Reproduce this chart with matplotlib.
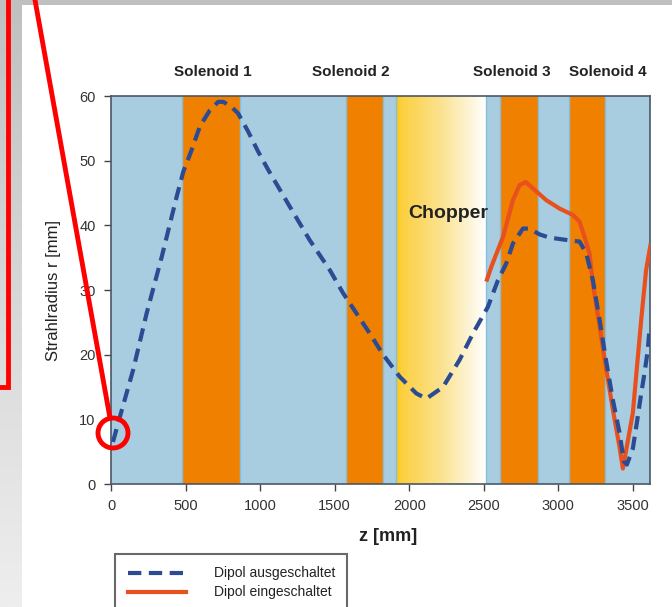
import numpy as np
import matplotlib
matplotlib.use("Agg")
import matplotlib.pyplot as plt
from matplotlib.colors import LinearSegmentedColormap
from matplotlib.lines import Line2D
from matplotlib.patches import Rectangle, Ellipse

plt.rcParams['font.family'] = ['Liberation Sans', 'DejaVu Sans']

# ---------------- data ----------------
z_off = [13, 72, 148, 239, 340, 440, 485, 540, 596, 663, 719, 753, 809, 853,
         920, 987, 1054, 1199, 1333, 1467, 1557, 1646, 1735, 1825, 1936, 2048,
         2115, 2227, 2338, 2428, 2528, 2595, 2651, 2696, 2763, 2807, 2874, 2941,
         3098, 3142, 3187, 3232, 3276, 3321, 3366, 3410, 3440, 3460, 3500, 3533,
         3556, 3578, 3600, 3611]
r_off = [6.5, 11.4, 17.6, 26.4, 35.1, 44.4, 48.3, 51.6, 55.3, 57.8, 59.1, 59.1,
         58.3, 57.3, 54.5, 51.4, 48.6, 42.9, 37.7, 33.1, 29.5, 26.4, 23.3, 20.0,
         16.6, 14.0, 13.2, 15.0, 19.2, 23.3, 27.4, 31.5, 34.1, 37.2, 39.5, 39.5,
         38.6, 38.1, 37.6, 37.5, 35.7, 31.5, 25.5, 19.0, 13.0, 8.0, 3.5, 3.0,
         5.5, 10.4, 14.0, 17.1, 20.7, 23.8]

z_on = [2517, 2551, 2629, 2696, 2740, 2781, 2830, 2919, 3008, 3098, 3142, 3176,
        3209, 3232, 3276, 3321, 3366, 3410, 3433, 3500, 3556, 3589, 3620]
r_on = [31.3, 33.6, 38.2, 43.9, 46.2, 46.7, 45.7, 43.9, 42.6, 41.6, 40.6, 38.2,
        35.7, 31.0, 24.5, 17.8, 11.5, 5.8, 2.4, 11.0, 25.4, 33.1, 37.2]

solenoid_start = [476, 1575, 2610, 3069]
solenoid_end = [864, 1822, 2866, 3314]
solenoid_names = ["Solenoid 1", "Solenoid 2", "Solenoid 3", "Solenoid 4"]
solenoid_label_z = [683, 1610, 2690, 3330]
chopper_range = [1913, 2516]

xticks = [0, 500, 1000, 1500, 2000, 2500, 3000, 3500]
yticks = [0, 10, 20, 30, 40, 50, 60]
series_names = ["Dipol ausgeschaltet", "Dipol eingeschaltet"]

# ---------------- figure ----------------
W, H = 672, 607
fig = plt.figure(figsize=(W / 100, H / 100), dpi=100)
fig.patch.set_facecolor('white')

# slide frame decoration
strip = fig.add_axes([0, 0, 22 / W, 1])
strip.imshow(np.linspace(0, 1, 256).reshape(-1, 1), aspect='auto',
             cmap=LinearSegmentedColormap.from_list('g', ['#C0C0C0', '#D8D8D8', '#EEEEEE']),
             extent=[0, 1, 0, 1])
strip.axis('off')
fig.add_artist(Rectangle((0, 1 - 5 / H), 1, 5 / H, transform=fig.transFigure,
                         facecolor='#C0C0C0', edgecolor='none', zorder=1))

ax = fig.add_axes([111 / W, 1 - 484 / H, 539 / W, 388 / H])
xmax = 3615
ax.set_facecolor('#A8CDE0')

for s, e in zip(solenoid_start, solenoid_end):
    ax.axvspan(s, e, color='#F08000', lw=0, zorder=1)
    ax.axvline(s, color='#F6B070', lw=0.8, zorder=1.1)

cmap = LinearSegmentedColormap.from_list('chop', [(0, '#FFC800'), (0.06, '#FCD040'),
                                                  (0.5, '#FBE290'), (1, '#FFFFFF')])
ax.imshow(np.linspace(0, 1, 256).reshape(1, -1), aspect='auto', cmap=cmap,
          extent=[chopper_range[0], chopper_range[1], 0, 60], zorder=1)
ax.set_xlim(0, xmax)
ax.set_ylim(0, 60)

for b in [solenoid_start[0], solenoid_end[0], solenoid_start[1], solenoid_end[1],
          chopper_range[0], chopper_range[1], solenoid_start[2], solenoid_end[2],
          solenoid_start[3], solenoid_end[3], xmax]:
    ax.axvline(b, color='#86BEE0', lw=1.0, zorder=1.2)

ax.plot(z_on, r_on, color='#E8501E', lw=3.0, solid_capstyle='butt',
        solid_joinstyle='round', zorder=3)
ax.plot(z_off, r_off, color='#2B4C93', lw=3.0, dashes=(3.2, 1.8), zorder=4)

for name, zc in zip(solenoid_names, solenoid_label_z):
    ax.text(zc, 1.062, name, transform=ax.get_xaxis_transform(), ha='center',
            va='center', fontsize=11, fontweight='bold', color='#222222')
ax.text(2265, 41.9, "Chopper", ha='center', va='center', fontsize=14,
        fontweight='bold', color='#222222', zorder=5)

ax.set_xticks(xticks)
ax.set_yticks(yticks)
ax.tick_params(direction='out', length=5, width=1, color='#444444',
               labelsize=10.5, labelcolor='#333333', pad=6)
for sp in ax.spines.values():
    sp.set_color('#4A5866')
    sp.set_linewidth(1.2)

ax.set_xlabel("z [mm]", fontsize=13, fontweight='bold', color='#222222')
ax.xaxis.set_label_coords((388 - 111) / 539, (484 - 528) / 388)
ax.set_ylabel("Strahlradius r [mm]", fontsize=12, color='#222222')
ax.yaxis.set_label_coords((61 - 111) / 539, 0.5)

handles = [Line2D([], [], color='#2B4C93', lw=3.0, dashes=(3.2, 1.8)),
           Line2D([], [], color='#E8501E', lw=3.0)]
leg = fig.legend(handles, series_names, loc='upper left',
                 bbox_to_anchor=(115 / W, 1 - 554 / H), fontsize=10,
                 frameon=True, fancybox=False, edgecolor='#444444',
                 handlelength=4.2, handletextpad=2.0, borderpad=0.9,
                 labelspacing=0.35, borderaxespad=0)
leg.get_frame().set_linewidth(1.5)
for t in leg.get_texts():
    t.set_color('#222222')

# red annotation marks
fig.add_artist(Line2D([7.5 / W, 7.5 / W, 0], [1, 1 - 387 / H, 1 - 387 / H],
                      transform=fig.transFigure, color='#FF0000', lw=3.5,
                      solid_joinstyle='miter', zorder=10))
fig.add_artist(Line2D([35 / W, 110 / W], [1, 1 - 418 / H],
                      transform=fig.transFigure, color='#FF0000', lw=3.5, zorder=10))
fig.add_artist(Ellipse((113 / W, 1 - 433 / H), 30 / W, 30 / H,
                       transform=fig.transFigure, facecolor='none',
                       edgecolor='#FF0000', lw=3.5, zorder=10))

fig.savefig("out.png", dpi=100)
